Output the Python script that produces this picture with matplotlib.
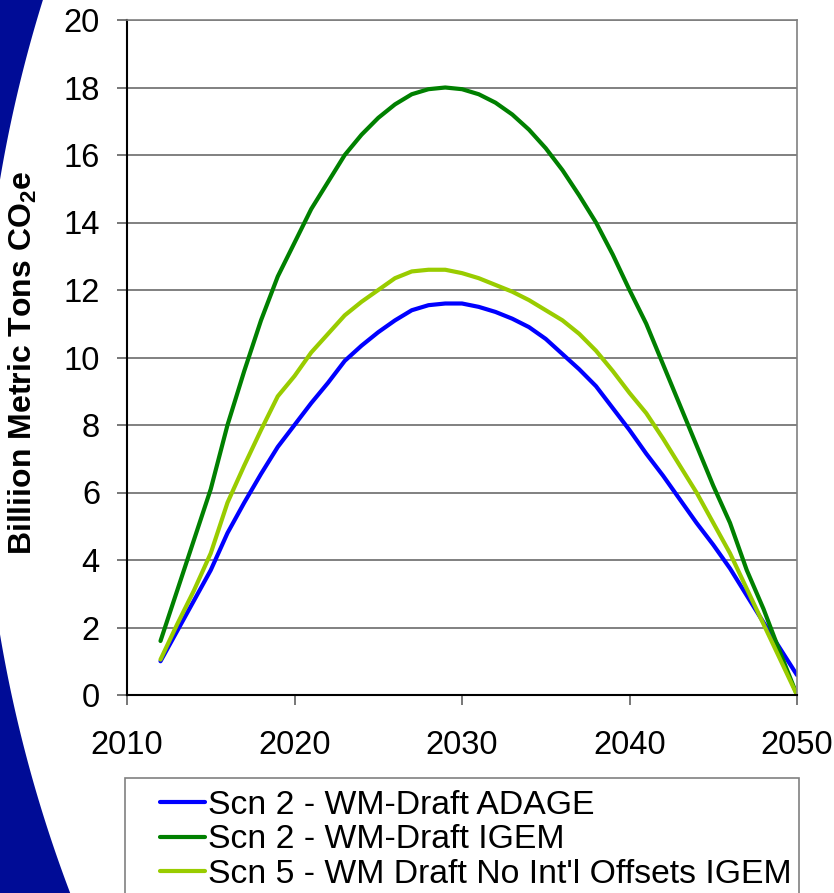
import numpy as np
import matplotlib
matplotlib.use("Agg")
import matplotlib.pyplot as plt
from matplotlib.patches import Rectangle

plt.rcParams['font.family'] = ['Liberation Sans', 'DejaVu Sans']
plt.rcParams['mathtext.fontset'] = 'custom'
plt.rcParams['mathtext.rm'] = 'Liberation Sans'
plt.rcParams['mathtext.bf'] = 'Liberation Sans:bold'

# data (billion metric tons CO2e)
years = list(range(2012, 2051))
adage = [1.0, 1.9, 2.8, 3.7, 4.8, 5.7, 6.55, 7.35, 8.0, 8.65,
         9.25, 9.9, 10.35, 10.75, 11.1, 11.4, 11.55, 11.6, 11.6, 11.5,
         11.35, 11.15, 10.9, 10.55, 10.1, 9.65, 9.15, 8.5, 7.85, 7.15,
         6.5, 5.8, 5.1, 4.45, 3.75, 2.95, 2.15, 1.37, 0.59]
igem = [1.6, 3.1, 4.6, 6.1, 8.0, 9.6, 11.1, 12.4, 13.4, 14.4,
        15.2, 16.0, 16.6, 17.1, 17.5, 17.8, 17.95, 18.0, 17.95, 17.8,
        17.55, 17.2, 16.75, 16.2, 15.55, 14.8, 14.0, 13.05, 12.0, 11.0,
        9.8, 8.6, 7.4, 6.2, 5.1, 3.7, 2.55, 1.25, 0.0]
no_offsets = [1.05, 2.1, 3.1, 4.2, 5.7, 6.8, 7.85, 8.85, 9.45, 10.15,
              10.7, 11.25, 11.65, 12.0, 12.35, 12.55, 12.6, 12.6, 12.5, 12.35,
              12.15, 11.95, 11.7, 11.4, 11.1, 10.7, 10.2, 9.6, 8.95, 8.35,
              7.6, 6.8, 6.0, 5.1, 4.2, 3.15, 2.1, 1.05, 0.0]

labels = ["Scn 2 - WM-Draft ADAGE",
          "Scn 2 - WM-Draft IGEM",
          "Scn 5 - WM Draft No Int'l Offsets IGEM"]
colors = ['#0000ff', '#008000', '#99cc00']

W, H = 834, 893
fig = plt.figure(figsize=(W / 100, H / 100), dpi=100)

# blue slide decoration on the left edge
bg = fig.add_axes([0, 0, 1, 1], zorder=-1)
bg.set_xlim(0, W)
bg.set_ylim(H, 0)
bg.axis('off')
ys = np.linspace(0, H, 300)
cx, cy, r = 1350.0, 407.0, 1369.0
xs = cx - np.sqrt(r ** 2 - (ys - cy) ** 2)
bg.fill_betweenx(ys, -60, xs, color='#000c96', lw=0)

ax = fig.add_axes([127 / W, 1 - 695 / H, (797 - 127) / W, (695 - 20) / H])
ax.set_facecolor('none')

for vals, lab, col in zip([adage, igem, no_offsets], labels, colors):
    ax.plot(years, vals, color=col, lw=3, label=lab, solid_capstyle='round')

ax.set_xlim(2010, 2050)
ax.set_ylim(0, 20)
ax.set_xticks(range(2010, 2051, 10))
ax.set_yticks(range(0, 21, 2))
ax.yaxis.grid(True, color='#808080', lw=1.4)
ax.set_axisbelow(True)

for side in ['left', 'bottom']:
    ax.spines[side].set_color('black')
    ax.spines[side].set_linewidth(1.5)
for side in ['top', 'right']:
    ax.spines[side].set_color('#808080')
    ax.spines[side].set_linewidth(1.2)

ax.tick_params(axis='y', length=7.5, width=1.2, color='#606060', pad=12, labelsize=23.5)
ax.tick_params(axis='x', length=7.5, width=1.2, color='#606060', pad=18, labelsize=23.5)

ax.set_ylabel(r'Billiion Metric Tons CO$_\mathbf{2}$e', fontsize=23, fontweight='bold')
ax.yaxis.set_label_coords((39 - 127) / (797 - 127), 0.492)

# legend box, runs off the bottom of the picture
fig.patches.append(Rectangle((125 / W, -0.05), (799 - 125) / W, (H - 778) / H + 0.05,
                             transform=fig.transFigure, fill=False,
                             edgecolor='#808080', lw=1.2))
handles, labs = ax.get_legend_handles_labels()
fig.legend(handles, labs, loc='upper left', bbox_to_anchor=(160 / W, 1 - 790 / H),
           frameon=False, fontsize=24.3, borderpad=0, borderaxespad=0,
           handlelength=1.33, handletextpad=0.1, labelspacing=0.1)

fig.savefig('out.png', dpi=100)
